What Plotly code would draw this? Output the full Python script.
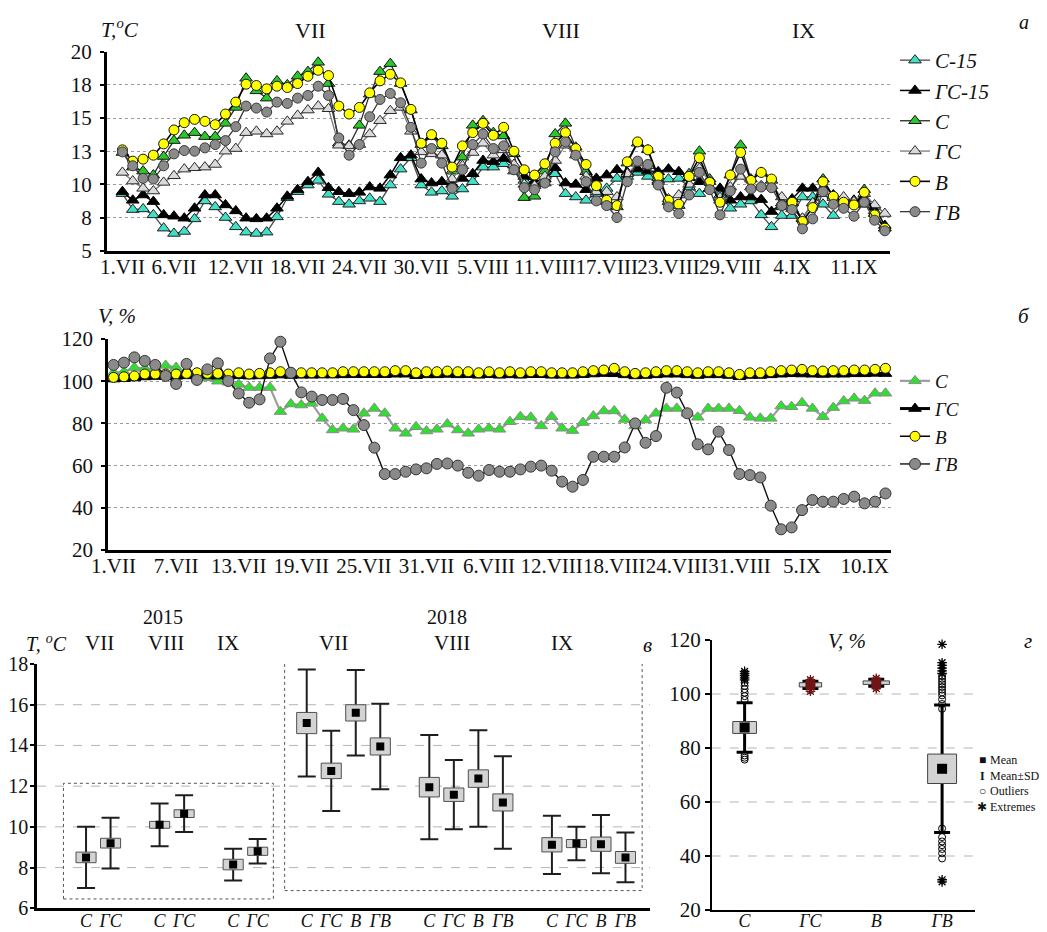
import plotly.graph_objects as go

# page is rendered with the browser's default 8px body margin
OFF = 8
FW, FH = 1039, 924
SERIF = "Liberation Serif"

# ---------------- panel а : water temperature, °C ----------------
a_tick_pos = [0, 5, 11, 17, 23, 29, 35, 41, 47, 53, 59, 65, 71]
a_tick_txt = ["1.VII", "6.VII", "12.VII", "18.VII", "24.VII", "30.VII", "5.VIII",
              "11.VIII", "17.VIII", "23.VIII", "29.VIII", "4.IX", "11.IX"]
a_y_vals = [5, 7.5, 10, 12.5, 15, 17.5, 20]
a_y_txt = ["5", "8", "10", "13", "15", "18", "20"]

t_c15 = [9.3, 8.1, 8.15, 7.7, 6.7, 6.3, 6.45, 7.4, 8.75, 8.3, 7.5, 6.8, 6.4, 6.3, 6.4, 7.55, 9.0, 9.45, 9.95, 10.3, 9.25, 8.7, 8.5, 8.75, 8.95,
         8.7, 9.95, 11.15, 12.0, 9.95, 9.4, 9.5, 9.1, 9.65, 10.2, 11.3, 11.3, 11.55, 11.0, 10.3, 10.0, 10.1, 10.8, 9.3, 9.05, 8.8, 9.3, 9.7, 10.45, 10.6,
         10.9, 10.6, 10.5, 10.4, 10.45, 9.8, 9.3, 9.7, 9.2, 8.2, 8.5, 8.75, 7.7, 6.8, 7.65, 7.65, 9.05, 9.05, 8.5, 7.65, 8.6, 8.6, 8.5, 8.0, 6.7]
t_gc15 = [9.45, 8.8, 9.2, 8.7, 7.7, 7.6, 7.45, 8.2, 9.2, 9.2, 8.45, 8.0, 7.45, 7.4, 7.45, 8.2, 9.1, 9.6, 10.2, 10.9, 9.75, 9.45, 9.3, 9.4, 9.8,
          9.7, 10.7, 12.0, 12.2, 10.4, 10.1, 10.2, 10.0, 10.45, 10.8, 11.8, 11.7, 11.95, 11.45, 10.6, 10.2, 10.4, 11.25, 10.1, 10.0, 9.6, 10.45, 10.7, 11.1, 10.9,
          11.15, 11.0, 10.95, 11.15, 10.95, 10.5, 10.2, 9.7, 9.7, 8.8, 9.05, 9.05, 8.85, 7.95, 8.6, 8.9, 9.7, 9.7, 9.3, 9.2, 8.9, 8.8, 8.9, 8.3, 6.9]
t_c = [12.4, 11.3, 11.0, 10.7, 12.1, 13.3, 13.7, 13.9, 13.6, 13.6, 14.6, 15.8, 18.0, 17.05, 16.5, 17.8, 17.5, 18.15, 18.5, 19.2, 17.6, 13.1, 12.95, 14.45, 16.8,
       18.5, 19.1, 17.6, 15.6, 13.0, 13.6, 12.9, 11.0, 12.05, 14.45, 14.8, 13.9, 13.65, 12.3, 9.0, 9.1, 11.0, 13.8, 14.6, 12.8, 10.95, 9.6, 8.7, 8.3, 11.6,
       13.1, 12.6, 10.3, 8.7, 8.4, 10.8, 12.5, 10.4, 8.8, 10.7, 12.95, 10.4, 10.9, 10.3, 8.3, 8.6, 7.4, 8.6, 10.4, 9.1, 8.6, 8.5, 9.6, 7.8, 6.7]
t_gc = [10.9, 10.25, 9.7, 9.5, 10.15, 10.65, 11.15, 11.25, 11.3, 11.5, 12.5, 12.7, 13.9, 14.0, 13.8, 14.0, 14.75, 15.2, 15.6, 15.9, 15.7, 12.95, 12.9, 13.0, 13.8,
        14.8, 15.55, 15.8, 14.0, 12.45, 12.3, 12.2, 10.4, 11.4, 12.4, 13.1, 12.2, 12.6, 11.5, 10.0, 9.9, 10.6, 11.8, 12.95, 12.2, 10.6, 9.45, 9.45, 9.05, 10.8,
        11.6, 11.4, 10.2, 8.9, 9.2, 10.0, 11.2, 10.2, 9.0, 9.8, 10.6, 9.8, 9.9, 9.9, 9.05, 8.15, 7.45, 8.6, 9.3, 9.0, 9.05, 8.7, 9.3, 8.45, 7.8]
t_b = [12.6, 11.75, 11.9, 12.2, 13.05, 14.1, 14.65, 14.9, 14.75, 14.5, 15.3, 16.2, 17.55, 17.45, 17.2, 17.4, 17.3, 17.6, 18.15, 18.6, 18.2, 15.9, 15.3, 15.8, 16.9,
       17.8, 18.3, 17.65, 15.65, 13.1, 13.75, 13.1, 11.3, 12.9, 13.9, 14.6, 13.7, 14.3, 12.5, 11.1, 10.7, 11.55, 13.1, 13.9, 12.7, 11.5, 9.9, 8.8, 8.4, 11.7,
       13.2, 12.6, 10.6, 8.8, 8.5, 10.6, 12.0, 10.15, 8.65, 10.7, 12.4, 10.3, 10.9, 10.4, 8.45, 8.65, 7.2, 8.25, 10.2, 9.1, 8.65, 8.45, 9.4, 7.7, 6.7]
t_gv = [12.45, 11.4, 10.45, 10.4, 11.4, 12.3, 12.55, 12.5, 12.75, 13.0, 13.3, 14.35, 15.9, 15.75, 15.45, 16.2, 16.1, 16.5, 16.7, 17.4, 16.7, 13.5, 12.2, 13.0, 15.1,
        16.4, 16.85, 16.15, 14.3, 11.6, 12.7, 11.6, 9.7, 11.1, 13.0, 13.8, 12.7, 12.9, 11.1, 9.75, 9.6, 10.1, 12.45, 13.2, 12.2, 10.2, 8.75, 8.4, 7.5, 10.2,
        11.75, 11.5, 9.95, 8.3, 7.8, 9.2, 10.9, 9.6, 7.7, 9.5, 11.15, 9.65, 9.8, 9.75, 8.4, 8.1, 6.65, 7.4, 9.45, 8.5, 8.2, 7.6, 8.65, 7.3, 6.5]

# ---------------- panel б : relative values, % ----------------
b_tick_pos = [0, 6, 12, 18, 24, 30, 36, 42, 48, 54, 60, 66, 72]
b_tick_txt = ["1.VII", "7.VII", "13.VII", "19.VII", "25.VII", "31.VII", "6.VIII",
              "12.VIII", "18.VIII", "24.VIII", "31.VIII", "5.IX", "10.IX"]
v_c = [104, 104.5, 106.5, 106, 105.5, 107.5, 106.5, 104, 102.5, 101.5, 100, 99.5, 98.5, 97, 97, 97, 85.6, 89.2, 88.7, 89.5, 82.4, 76.9, 77.7, 77.2, 84.8,
       87.1, 84.8, 77.7, 75.3, 78.4, 76.4, 77.2, 79.7, 76.9, 75.3, 77.2, 77.7, 77.2, 80.8, 83.2, 82.9, 78.8, 83.2, 77.7, 76.6, 80.4, 83.5, 85.9, 85.9, 81.9,
       78.8, 81.6, 84.8, 87.1, 87.1, 84.8, 82.9, 87.1, 87.1, 87.1, 86.0, 82.9, 82.4, 82.4, 88.2, 87.9, 89.8, 87.1, 83.2, 87.5, 90.6, 91.9, 90.8, 94.3, 94.3]
v_gc = [101.0, 101.2, 101.5, 102.0, 102.2, 102.2, 102.3, 102.5, 102.6, 102.5, 102.4, 102.3, 102.6, 102.4, 102.5, 102.7, 102.9, 102.7, 102.8, 102.8, 102.9, 102.9, 103.0, 103.1, 103.1,
        103.1, 103.1, 103.3, 103.3, 102.6, 103.0, 103.0, 103.2, 103.0, 103.1, 102.8, 103.1, 102.8, 103.0, 102.8, 103.1, 103.1, 102.8, 102.8, 102.8, 103.1, 103.4, 103.6, 103.5, 103.0,
        102.5, 102.7, 103.0, 103.3, 103.3, 103.0, 102.7, 103.0, 103.0, 102.7, 102.1, 102.7, 102.7, 103.0, 103.3, 103.5, 103.4, 103.3, 103.2, 103.3, 103.3, 103.5, 103.5, 103.7, 103.6]
v_b = [101.8, 102.1, 102.5, 103.4, 103.4, 103.4, 103.4, 103.7, 104.0, 103.7, 103.7, 103.4, 104.0, 103.4, 103.7, 104.0, 104.5, 104.0, 104.0, 104.0, 104.0, 104.0, 104.5, 104.5, 104.5,
       104.5, 104.5, 105.0, 105.0, 104.0, 104.5, 104.5, 104.8, 104.5, 104.5, 104.0, 104.5, 104.0, 104.5, 104.0, 104.5, 104.5, 104.0, 104.0, 104.0, 104.5, 105.0, 105.3, 106.1, 104.5,
       103.7, 104.0, 104.5, 105.0, 105.0, 104.5, 104.0, 104.5, 104.5, 104.0, 103.2, 104.0, 104.0, 104.5, 105.0, 105.3, 105.6, 105.0, 104.8, 105.0, 105.0, 105.3, 105.3, 105.6, 106.1]
v_gv = [107.7, 108.8, 111.3, 109.6, 107.7, 102.5, 98.7, 108.2, 100.6, 105.6, 108.5, 100.1, 94.2, 89.8, 91.4, 110.8, 118.7, 104.0, 94.7, 92.7, 91.1, 91.1, 91.6, 86.3, 79.2,
        68.5, 56.0, 56.0, 57.1, 58.2, 58.7, 60.8, 61.0, 60.0, 56.6, 55.2, 57.9, 57.1, 57.1, 58.2, 59.5, 60.0, 57.6, 52.4, 50.0, 53.2, 64.2, 64.2, 64.2, 68.6,
        80.0, 70.8, 74.0, 96.9, 94.6, 84.8, 70.1, 67.7, 76.1, 67.4, 56.0, 55.5, 54.4, 41.0, 29.8, 30.7, 38.9, 43.7, 42.9, 42.9, 44.2, 45.3, 42.1, 42.9, 46.8]

# ---------------- panel в : monthly means (mean, SE, SD), °C ----------------
box_year = [2015, 2015, 2015, 2015, 2015, 2015] + [2018] * 12
box_month = ["VII", "VII", "VIII", "VIII", "IX", "IX",
             "VII", "VII", "VII", "VII", "VIII", "VIII", "VIII", "VIII", "IX", "IX", "IX", "IX"]
box_site = ["С", "ГС", "С", "ГС", "С", "ГС",
            "С", "ГС", "В", "ГВ", "С", "ГС", "В", "ГВ", "С", "ГС", "В", "ГВ"]
box_mean = [8.5, 9.2, 10.1, 10.65, 8.15, 8.8, 15.1, 12.75, 15.6, 13.95, 11.95, 11.58, 12.37, 11.2, 9.12, 9.18, 9.15, 8.5]
box_se = [0.26, 0.24, 0.17, 0.19, 0.26, 0.2, 0.52, 0.38, 0.4, 0.42, 0.48, 0.33, 0.43, 0.42, 0.35, 0.2, 0.35, 0.29]
box_sd = [1.5, 1.25, 1.05, 0.9, 0.78, 0.6, 2.63, 1.97, 2.1, 2.1, 2.56, 1.7, 2.37, 2.27, 1.43, 0.82, 1.43, 1.22]

# ---------------- panel г : V, % summary ----------------
g_sites = ["С", "ГС", "В", "ГВ"]
g_mean = [87.6, 103.4, 104.2, 72.3]
g_se = [2.2, 0.8, 0.65, 5.45]
g_sd = [9.2, 1.35, 1.3, 23.6]
g_out = [[97.8, 99.2, 100.5, 101.8, 103.0, 104.2, 77.2, 76.4, 75.7],
         [101.4, 104.9],
         [102.4, 105.4],
         [94.5, 96.3, 98.0, 99.5, 100.6, 101.6, 102.6, 103.6, 104.6, 105.6, 106.6,
          50.2, 47.0, 45.4, 44.0, 42.6, 41.0, 39.1]]
g_ext = [[105.2, 106.0, 106.8, 107.6, 108.4],
         [101.0, 105.3],
         [102.0, 105.8],
         [107.6, 108.6, 109.6, 110.6, 111.6, 118.4, 31.2, 30.4]]
g_key_sym = ["■", "<b>I</b>", "○", "✱"]
g_key_txt = ["Mean", "Mean±SD", "Outliers", "Extremes"]

# ---------------- helpers (layout only; arguments are window pixels) ----------------
def xd(a, b):
    return [(a - OFF) / FW, (b - OFF) / FW]

def yd(top, bottom):
    return [1 - (bottom - OFF) / FH, 1 - (top - OFF) / FH]

def px(xp, yp):
    return (xp - OFF) / FW, 1 - (yp - OFF) / FH

fig = go.Figure()

# ---- panel а traces ----
days_a = list(range(len(t_c15)))
a_styles = [
    ("<i>С-15</i>", t_c15, "triangle-up", "#3fe0c6", "#202020", "#4a4a4a", 1.3, 11),
    ("<i>ГС-15</i>", t_gc15, "triangle-up", "#000000", "#000000", "#000000", 1.5, 11),
    ("<i>С</i>", t_c, "triangle-up", "#28c828", "#151515", "#2a2a2a", 1.3, 11),
    ("<i>ГС</i>", t_gc, "triangle-up", "#dadada", "#2a2a2a", "#7a7a7a", 1.3, 11),
    ("<i>В</i>", t_b, "circle", "#ffff00", "#151515", "#000000", 1.6, 10),
    ("<i>ГВ</i>", t_gv, "circle", "#8a8a8a", "#3a3a3a", "#3a3a3a", 1.3, 10),
]
for name, ys, sym, fill, edge, lc, lw, sz in a_styles:
    fig.add_trace(go.Scatter(
        x=days_a, y=ys, name=name, mode="lines+markers",
        line=dict(color=lc, width=lw),
        marker=dict(symbol=sym, size=sz, color=fill, line=dict(color=edge, width=1)),
        xaxis="x", yaxis="y", legend="legend", cliponaxis=False))

# ---- panel б traces ----
days_b = list(range(len(v_c)))
b_styles = [
    ("<i>С</i>", v_c, "triangle-up", "#2ee02e", "#8a8a8a", "#9c9c9c", 2.2, 11),
    ("<i>ГС</i>", v_gc, "triangle-up", "#000000", "#000000", "#000000", 3, 11),
    ("<i>В</i>", v_b, "circle", "#ffff00", "#151515", "#000000", 1.5, 10),
    ("<i>ГВ</i>", v_gv, "circle", "#8a8a8a", "#333333", "#111111", 1.4, 11),
]
for name, ys, sym, fill, edge, lc, lw, sz in b_styles:
    fig.add_trace(go.Scatter(
        x=days_b, y=ys, name=name, mode="lines+markers",
        line=dict(color=lc, width=lw),
        marker=dict(symbol=sym, size=sz, color=fill, line=dict(color=edge, width=1)),
        xaxis="x2", yaxis="y2", legend="legend2", cliponaxis=False))

# ---- panel в: mean ± SE boxes, mean ± SD whiskers ----
slots = []
grp = -1
prev = None
for i, (yr, mo) in enumerate(zip(box_year, box_month)):
    if (yr, mo) != prev:
        grp += 1
        prev = (yr, mo)
    slots.append(2 + i + grp)

fig.add_trace(go.Scatter(
    x=slots, y=box_mean, mode="markers", marker=dict(size=1, color="rgba(0,0,0,0)"),
    error_y=dict(type="data", array=box_sd, color="#1e1e1e", thickness=2, width=9),
    xaxis="x3", yaxis="y3", showlegend=False, hoverinfo="skip"))
half_w = 0.41
bx, by = [], []
for s, m, se in zip(slots, box_mean, box_se):
    bx += [s - half_w, s + half_w, s + half_w, s - half_w, s - half_w, None]
    by += [m - se, m - se, m + se, m + se, m - se, None]
fig.add_trace(go.Scatter(
    x=bx, y=by, mode="lines", fill="toself", fillcolor="#d3d3d3",
    line=dict(color="#505050", width=1), xaxis="x3", yaxis="y3",
    showlegend=False, hoverinfo="skip"))
fig.add_trace(go.Scatter(
    x=slots, y=box_mean, mode="markers",
    marker=dict(symbol="square", size=8, color="#000000"),
    xaxis="x3", yaxis="y3", showlegend=False))

# ---- panel г ----
g_pos = list(range(len(g_sites)))
g_halfw = [0.18, 0.17, 0.2, 0.22]
g_mark_col = ["#000000", "#6e1414", "#6e1414", "#000000"]
fig.add_trace(go.Scatter(
    x=g_pos, y=g_mean, mode="markers", marker=dict(size=1, color="rgba(0,0,0,0)"),
    error_y=dict(type="data", array=g_sd, color="#000000", thickness=3, width=8),
    xaxis="x4", yaxis="y4", showlegend=False, hoverinfo="skip"))
gx, gy = [], []
for p, m, se, hw in zip(g_pos, g_mean, g_se, g_halfw):
    gx += [p - hw, p + hw, p + hw, p - hw, p - hw, None]
    gy += [m - se, m - se, m + se, m + se, m - se, None]
fig.add_trace(go.Scatter(
    x=gx, y=gy, mode="lines", fill="toself", fillcolor="#d3d3d3",
    line=dict(color="#444444", width=1), xaxis="x4", yaxis="y4",
    showlegend=False, hoverinfo="skip"))
ox, oy, oc = [], [], []
ex, ey, ec = [], [], []
for p, outs, exts, col in zip(g_pos, g_out, g_ext, g_mark_col):
    ox += [p] * len(outs); oy += outs; oc += [col] * len(outs)
    ex += [p] * len(exts); ey += exts; ec += [col] * len(exts)
fig.add_trace(go.Scatter(
    x=ox, y=oy, mode="markers",
    marker=dict(symbol="circle-open", size=7, color=oc, line=dict(width=1)),
    xaxis="x4", yaxis="y4", showlegend=False, cliponaxis=False))
fig.add_trace(go.Scatter(
    x=ex, y=ey, mode="markers",
    marker=dict(symbol="asterisk-open", size=8, color=ec, line=dict(width=1.3, color=ec)),
    xaxis="x4", yaxis="y4", showlegend=False, cliponaxis=False))
fig.add_trace(go.Scatter(
    x=g_pos, y=g_mean, mode="markers",
    marker=dict(symbol="square", size=10, color=g_mark_col),
    xaxis="x4", yaxis="y4", showlegend=False))

# ---------------- axes ----------------
tickf = dict(family=SERIF, size=21, color="#111111")
catf = dict(family=SERIF, size=18, color="#111111")
grid_dot = dict(showgrid=True, gridcolor="#9a9a9a", griddash="dot", gridwidth=1)

layout = dict(
    width=FW, height=FH, autosize=False,
    margin=dict(l=0, r=0, t=0, b=0, autoexpand=False),
    paper_bgcolor="white", plot_bgcolor="white",
    font=dict(family=SERIF, color="#111111"),
    xaxis=dict(domain=xd(107, 890), anchor="y", range=[-1.5, 74.5],
               tickmode="array", tickvals=a_tick_pos, ticktext=a_tick_txt, tickangle=0,
               tickfont=tickf, showline=True, linecolor="#000", linewidth=3,
               showgrid=False, zeroline=False, ticks="", ticklabelstandoff=-5),
    yaxis=dict(domain=yd(51.7, 250.7), anchor="x", range=[5, 20],
               tickmode="array", tickvals=a_y_vals, ticktext=a_y_txt,
               tickfont=tickf, showline=True, linecolor="#000", linewidth=3,
               ticks="outside", ticklen=4, tickwidth=2, tickcolor="#000",
               zeroline=False, ticklabelstandoff=4, **grid_dot),
    xaxis2=dict(domain=xd(108.3, 890.7), anchor="y2", range=[-0.5, 74.5],
                tickmode="array", tickvals=b_tick_pos, ticktext=b_tick_txt, tickangle=0,
                tickfont=tickf, showline=True, linecolor="#000", linewidth=3,
                showgrid=False, zeroline=False, ticks="", ticklabelstandoff=-5),
    yaxis2=dict(domain=yd(339, 550), anchor="x2", range=[20, 120], dtick=20,
                tickfont=tickf, showline=True, linecolor="#000", linewidth=3,
                ticks="outside", ticklen=4, tickwidth=2, tickcolor="#000",
                zeroline=False, ticklabelstandoff=4, **grid_dot),
    xaxis3=dict(domain=xd(37, 650), anchor="y3", range=[0, 25],
                tickmode="array", tickvals=slots,
                ticktext=["<i>%s</i>" % s for s in box_site], tickangle=0,
                tickfont=catf,
                showline=True, linecolor="#000", linewidth=2.5,
                showgrid=False, zeroline=False, ticks="", ticklabelstandoff=-6),
    yaxis3=dict(domain=yd(664, 908.3), anchor="x3", range=[6, 18], dtick=2,
                tickfont=dict(family=SERIF, size=20, color="#111111"),
                showline=True, linecolor="#000", linewidth=2.5,
                ticks="outside", ticklen=4, tickwidth=2, tickcolor="#000",
                showgrid=False, zeroline=False, ticklabelstandoff=-2),
    xaxis4=dict(domain=xd(711.7, 975), anchor="y4", range=[-0.5, 3.5],
                tickmode="array", tickvals=g_pos,
                ticktext=["<i>%s</i>" % s for s in g_sites], tickangle=0,
                tickfont=catf,
                showline=True, linecolor="#000", linewidth=1.5,
                showgrid=False, zeroline=False, ticks="", ticklabelstandoff=-6),
    yaxis4=dict(domain=yd(640, 910), anchor="x4", range=[20, 120], dtick=20,
                tickfont=tickf, showline=True, linecolor="#000", linewidth=1.5,
                ticks="outside", ticklen=5, tickwidth=1.5, tickcolor="#000",
                showgrid=False, zeroline=False),
    legend=dict(x=(895 - OFF) / FW, y=1 - (40 - OFF) / FH, xanchor="left", yanchor="top",
                bgcolor="rgba(0,0,0,0)", font=dict(family=SERIF, size=21, color="#111"),
                itemwidth=30, tracegroupgap=0),
    legend2=dict(x=(895 - OFF) / FW, y=1 - (362 - OFF) / FH, xanchor="left", yanchor="top",
                 bgcolor="rgba(0,0,0,0)", font=dict(family=SERIF, size=19, color="#111"),
                 itemwidth=30, tracegroupgap=0),
)
fig.update_layout(**layout)

# ---------------- gridlines for panels в and г ----------------
shapes = []
for v in [8, 10, 12, 14, 16]:
    shapes.append(dict(type="line", xref="x3 domain", yref="y3", x0=0, x1=1, y0=v, y1=v,
                       line=dict(color="#b4b4b4", width=1, dash="dash"), layer="below"))
for v in [40, 60, 80, 100]:
    shapes.append(dict(type="line", xref="x4 domain", yref="y4", x0=0, x1=1, y0=v, y1=v,
                       line=dict(color="#b4b4b4", width=1, dash="dash"), layer="below"))
# dotted frames around the two seasons in panel в
shapes.append(dict(type="rect", xref="x3", yref="y3", x0=1.08, x1=9.64, y0=6.46, y1=12.14,
                   line=dict(color="#555", width=1, dash="dot"), layer="below"))
shapes.append(dict(type="rect", xref="x3", yref="y3", x0=10.1, x1=24.68, y0=6.87, y1=18.16,
                   line=dict(color="#555", width=1, dash="dot"), layer="below"))
fig.update_layout(shapes=shapes)

# ---------------- text ----------------
def ann(text, xp, yp, size=21, xanchor="center"):
    x, y = px(xp, yp)
    return dict(text=text, x=x, y=y, xref="paper", yref="paper", showarrow=False,
                xanchor=xanchor, yanchor="middle",
                font=dict(family=SERIF, size=size, color="#111"))

anns = [
    ann("<i>T,<sup>o</sup>C</i>", 120, 28, 21),
    ann("VII", 310, 30, 22), ann("VIII", 561, 30, 22), ann("IX", 803, 30, 22),
    ann("<i>а</i>", 1024, 22, 20),
    ann("<i>V, %</i>", 117, 316, 21),
    ann("<i>б</i>", 1024, 316, 21),
    ann("2015", 163, 617, 20), ann("2018", 447, 617, 20),
    ann("<i>T, <sup>o</sup>C</i>", 46, 643, 20),
    ann("VII", 99, 643, 21), ann("VIII", 166, 643, 21), ann("IX", 228, 643, 21),
    ann("VII", 333, 643, 21), ann("VIII", 452, 643, 21), ann("IX", 562, 643, 21),
    ann("<i>в</i>", 647, 645, 21),
    ann("<i>V, %</i>", 847, 641, 21),
    ann("<i>г</i>", 1028, 641, 21),
]
for k, (sym, txt) in enumerate(zip(g_key_sym, g_key_txt)):
    yk = 760 + 15.5 * k
    anns.append(ann(sym, 982, yk, 12))
    anns.append(ann(txt, 988, yk, 12, "left"))
fig.update_layout(annotations=anns)

fig.write_html("out.html")
